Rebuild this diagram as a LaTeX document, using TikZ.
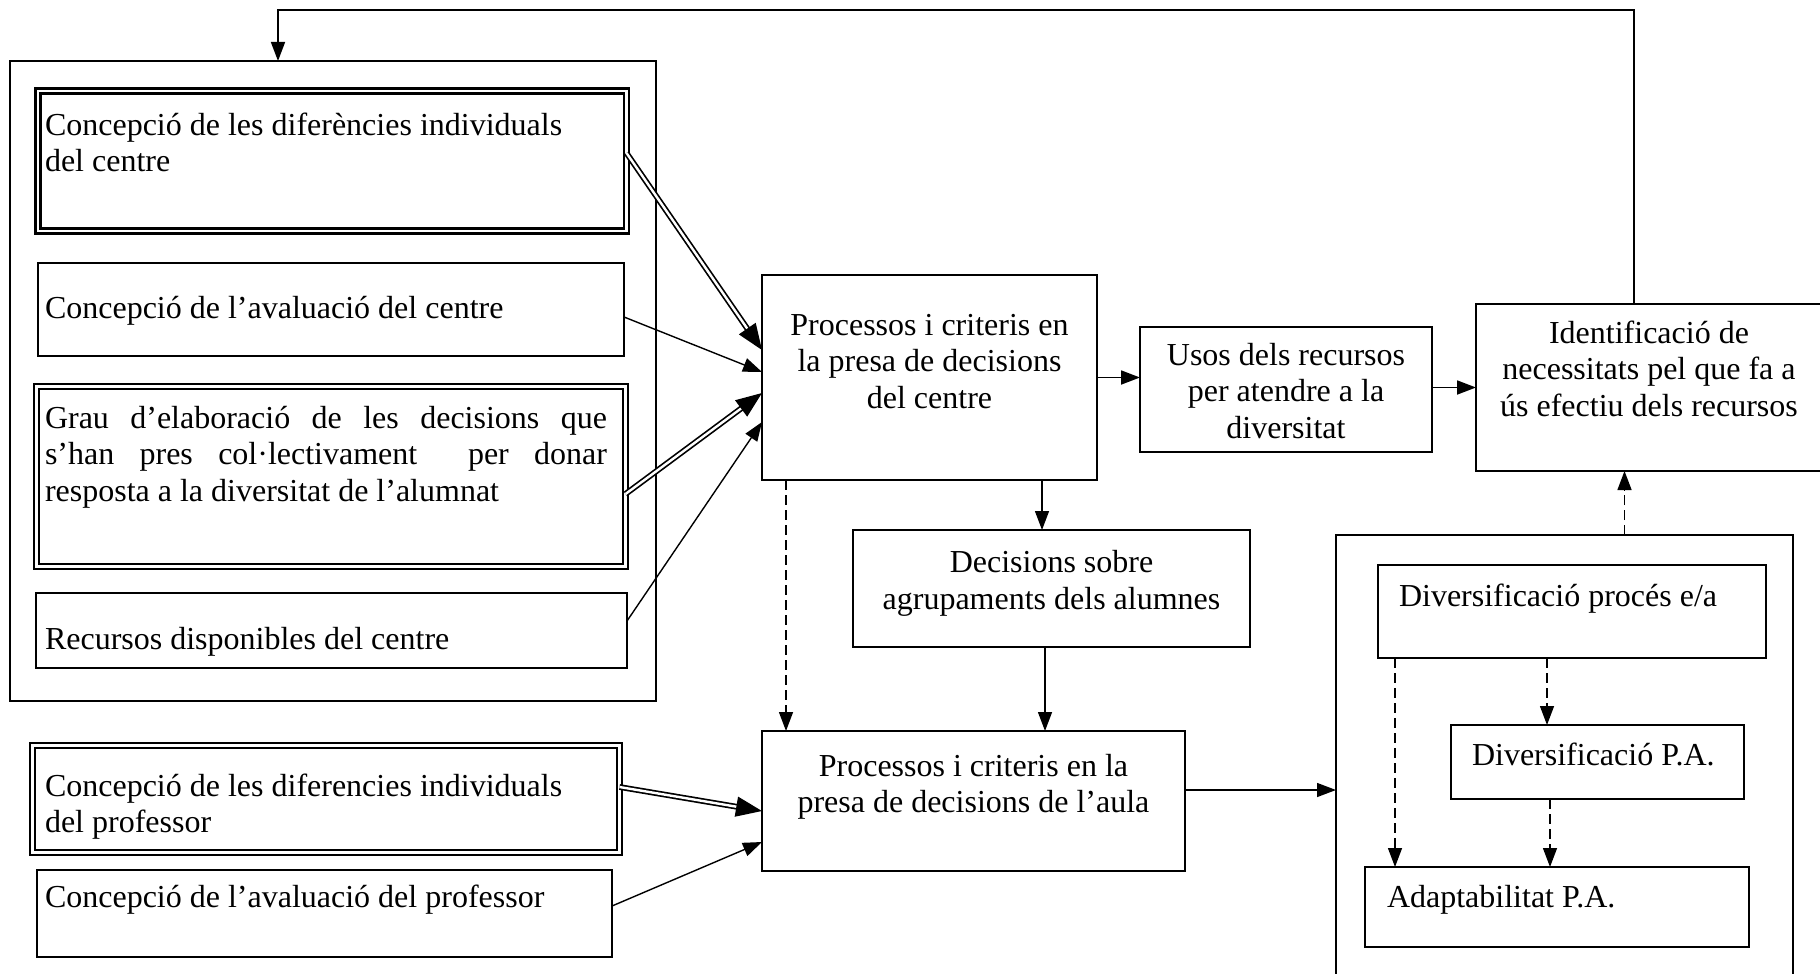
\documentclass[tikz,border=0pt]{standalone}
\usepackage{fontspec}
\setmainfont{Liberation Serif}
\usepackage{tikz}
\usetikzlibrary{arrows.meta,positioning,calc}

% text cells: width, height, text
\newcommand{\lcell}[3]{\parbox[c][#2pt][t]{#1pt}{\raggedright\strut #3}}
\newcommand{\ccell}[3]{\parbox[c][#2pt][t]{#1pt}{\centering\strut #3}}
\newcommand{\jcell}[3]{\parbox[c][#2pt][t]{#1pt}{\strut #3}}

\tikzset{
    box/.style={draw, rectangle, line width=1.6pt, inner sep=0pt, outer sep=0pt, anchor=north west},
    dbox/.style={box, double, line width=2.2pt, double distance=2.8pt},
    flow/.style={-{Triangle[length=19pt, width=14pt]}, line width=1.4pt},
    dflow/.style={-{Triangle[length=26pt, width=20pt]}, double, line width=1.7pt, double distance=2.4pt},
    weak/.style={flow, dash pattern=on 10pt off 5pt}
}

\begin{document}
\begin{tikzpicture}[x=1pt, y=-1pt, font=\fontsize{32}{36.5}\selectfont]
            \useasboundingbox (0,0) rectangle (1820,974);

            % Centre level
            \node[box, minimum width=646pt, minimum height=640pt] (grupcentre) at (10,61) {};
            \node[dbox, inner xsep=7pt, inner ysep=18.5pt] (difcentre) at (38,91)
                {\lcell{574.5}{103}{Concepció de les diferències individuals\\del centre}};
            \node[box, inner xsep=7pt, inner ysep=29.5pt] (avalcentre) at (38,263)
                {\lcell{572}{34}{Concepció de l’avaluació del centre}};
            \node[dbox, inner xsep=8.5pt, inner ysep=16pt] (grau) at (36.5,386.5)
                {\jcell{572}{148}{\rightskip=10pt Grau d’elaboració de les decisions que\linebreak s’han pres col·lectivament\ \ per donar\linebreak resposta a la diversitat de l’alumnat}};
            \node[box, inner xsep=9pt, inner ysep=30.5pt] (recursos) at (36,593)
                {\lcell{573}{14}{Recursos disponibles del centre}};

            % Classroom level
            \node[dbox, inner xsep=12.5pt, inner ysep=25pt] (difprof) at (32.5,745.5)
                {\lcell{562}{57}{Concepció de les diferencies individuals\\del professor}};
            \node[box, inner xsep=8pt, inner ysep=11.5pt] (avalprof) at (37,870)
                {\lcell{559}{64}{Concepció de l’avaluació del professor}};

            % Processes
            \node[box, inner xsep=10pt, inner ysep=34.5pt] (procentre) at (762,275)
                {\ccell{315}{136}{Processos i criteris en\\la presa de decisions\\del centre}};
            \node[box, inner xsep=10pt, inner ysep=12.5pt] (usos) at (1140,327)
                {\ccell{272}{100}{Usos dels recursos\\per atendre a la\\diversitat}};
            \node[box, inner xsep=10pt, inner ysep=13.5pt] (identif) at (1476,304)
                {\ccell{326}{140}{Identificació de\\necessitats pel que fa a\\ús efectiu dels recursos}};
            \node[box, inner xsep=10pt, inner ysep=17pt] (agrup) at (853,530)
                {\ccell{377}{83}{Decisions sobre\\agrupaments dels alumnes}};
            \node[box, inner xsep=10pt, inner ysep=19.5pt] (proaula) at (762,731)
                {\ccell{403}{101}{Processos i criteris en la\\presa de decisions de l’aula}};

            % Diversification
            \node[box, minimum width=457pt, minimum height=445pt] (diversif) at (1336,535) {};
            \node[box, inner xsep=21pt, inner ysep=15.5pt] (divproc) at (1378,565)
                {\lcell{346}{62}{Diversificació procés e/a}};
            \node[box, inner xsep=21pt, inner ysep=14.5pt] (divpa) at (1451,725)
                {\lcell{251}{45}{Diversificació~P.A.}};
            \node[box, inner xsep=22pt, inner ysep=14.5pt] (adapt) at (1365,867)
                {\lcell{340}{51}{Adaptabilitat P.A.}};

            % Inputs to the centre process
            \draw[dflow] ([yshift=8pt]difcentre.east) -- ([yshift=27.5pt]procentre.west);
            \draw[flow] ([yshift=-7.5pt]avalcentre.east) -- ([yshift=5.5pt]procentre.west);
            \draw[dflow] ([yshift=-17.5pt]grau.east) -- ([yshift=-15.5pt]procentre.west);
            \draw[flow] ([yshift=9.5pt]recursos.east) -- ([yshift=-44.5pt]procentre.west);

            % Top row
            \draw[flow, line width=1.8pt] (procentre.east) -- (procentre.east -| usos.west);
            \draw[flow, line width=1.8pt] (usos.east |- identif.west) -- (identif.west);

            % Feedback loop
            \coordinate (loopr) at (1634,10);
            \coordinate (loopl) at (278,10);
            \draw[flow, line width=1.6pt] (identif.north -| loopr) -- (loopr) -- (loopl) -- (loopl |- grupcentre.north);

            % Down to the classroom
            \draw[flow] ([xshift=-9.5pt]agrup.north |- procentre.south) -- ([xshift=-9.5pt]agrup.north);
            \draw[flow] ([xshift=-6.5pt]agrup.south) -- ([xshift=-6.5pt]agrup.south |- proaula.north);
            \draw[weak] ([xshift=24pt]procentre.south west) -- ([xshift=24pt]proaula.north west);

            % Inputs to the classroom process
            \draw[dflow] ([yshift=12pt]difprof.east) -- ([yshift=-10pt]proaula.west);
            \draw[flow] ([yshift=7.5pt]avalprof.east) -- ([yshift=-41pt]proaula.west);
            \draw[flow] ([yshift=11pt]proaula.east) -- ([yshift=11pt]proaula.east -| diversif.west);

            % Diversification links
            \draw[weak] ([xshift=60pt]diversif.north) -- ([xshift=60pt]diversif.north |- identif.south);
            \draw[weak] ([xshift=-25pt]divproc.south) -- ([xshift=-25pt]divproc.south |- divpa.north);
            \draw[weak] ([xshift=-47.5pt]divpa.south) -- ([xshift=-47.5pt]divpa.south |- adapt.north);
            \draw[weak] ([xshift=17pt]divproc.south west) -- ([xshift=17pt]divproc.south west |- adapt.north);
        \end{tikzpicture}
\end{document}
